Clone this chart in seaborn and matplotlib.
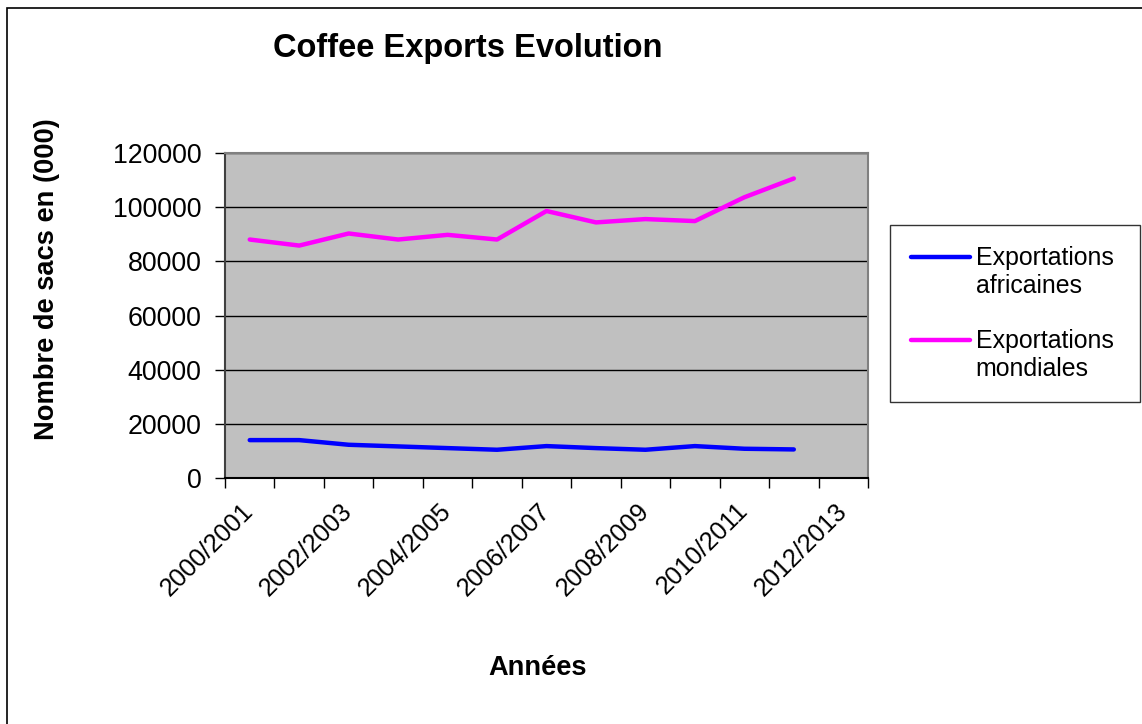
import matplotlib
matplotlib.use("Agg")
import matplotlib.pyplot as plt
from matplotlib.patches import Rectangle
from matplotlib.legend_handler import HandlerLine2D
import numpy as np
import pandas as pd
import seaborn as sns

# Marketing years on the category axis (the last one has no data yet)
campagnes = ["2000/2001", "2001/2002", "2002/2003", "2003/2004", "2004/2005",
             "2005/2006", "2006/2007", "2007/2008", "2008/2009", "2009/2010",
             "2010/2011", "2011/2012", "2012/2013"]

# Exports, thousands of 60 kg bags
exportations_africaines = [13990, 13990, 12270, 11660, 11040, 10430,
                           11780, 11040, 10430, 11780, 10800, 10550]
exportations_mondiales = [88050, 85820, 90280, 88050, 89780, 88050,
                          98580, 94370, 95600, 94860, 103650, 110590]

noms_series = ["Exportations\nafricaines", "Exportations\nmondiales"]
couleurs = ["#0000FF", "#FF00FF"]

n_points = len(exportations_africaines)
df = pd.DataFrame({
    "pos": list(range(n_points)) * 2,
    "valeur": exportations_africaines + exportations_mondiales,
    "serie": [noms_series[0]] * n_points + [noms_series[1]] * n_points,
})

sns.set_style("white")
plt.rcParams["font.family"] = ["Liberation Sans", "DejaVu Sans"]
for key in ("text.color", "axes.labelcolor", "xtick.color", "ytick.color"):
    plt.rcParams[key] = "black"

W, H = 1142, 724
fig = plt.figure(figsize=(W / 100, H / 100), dpi=100)
ax = fig.add_axes([225 / W, 1 - 478 / H, (868 - 225) / W, (478 - 153) / H])

sns.lineplot(data=df, x="pos", y="valeur", hue="serie",
             palette=dict(zip(noms_series, couleurs)), linewidth=3.2,
             legend=False, ax=ax, zorder=3)

ax.set_facecolor("#C0C0C0")
ax.set_xlim(-0.5, len(campagnes) - 0.5)
ax.set_ylim(0, 120000)
ax.set_yticks(np.arange(0, 120001, 20000))
ax.set_yticklabels([str(v) for v in range(0, 120001, 20000)])
ax.grid(axis="y", color="black", linewidth=1.0)
ax.grid(axis="x", visible=False)
ax.set_axisbelow(True)

# Ticks between categories, labels on every other category
ax.set_xticks(np.arange(-0.5, len(campagnes), 1.0), minor=True)
ax.set_xticks(np.arange(0, len(campagnes), 2))
ax.set_xticklabels(campagnes[::2], rotation=45, ha="right",
                   rotation_mode="anchor", va="center")
ax.tick_params(axis="x", which="major", length=0, pad=21, labelsize=18.3)
ax.tick_params(axis="x", which="minor", length=7, width=1, color="black",
               direction="out", bottom=True)
ax.tick_params(axis="y", length=7, width=1, color="black", direction="out",
               left=True, labelsize=19.3, pad=10)

for side, spine in ax.spines.items():
    spine.set_color("#808080")
    spine.set_linewidth(1.5)
ax.spines["left"].set_color("#404040")
ax.spines["bottom"].set_color("black")

ax.set_xlabel("")
ax.set_ylabel("")
fig.text(538 / W, 1 - 668 / H, "Années", fontsize=19.6, fontweight="bold",
         ha="center", va="center")
fig.text(47 / W, 1 - 279 / H, "Nombre de sacs en (000)", fontsize=19.6,
         fontweight="bold", ha="center", va="center", rotation=90)
fig.text(468 / W, 1 - 49 / H, "Coffee Exports Evolution", fontsize=23.5,
         fontweight="bold", ha="center", va="center")


class HandleOnFirstLine(HandlerLine2D):
    """Legend line drawn level with the first line of a two-line label."""

    def create_artists(self, legend, orig_handle, xdescent, ydescent,
                       width, height, fontsize, trans):
        artists = super().create_artists(legend, orig_handle, xdescent,
                                         ydescent, width, height, fontsize,
                                         trans)
        for art in artists:
            art.set_ydata(np.asarray(art.get_ydata()) + 0.62 * fontsize)
            xd = np.asarray(art.get_xdata(), dtype=float)
            if xd.size == 2:
                xd[0] += 0.3 * fontsize
                art.set_xdata(xd)
        return artists


handles = [plt.Line2D([], [], color=c, linewidth=3.2,
                      solid_capstyle="round") for c in couleurs]
leg = fig.legend(handles, noms_series, loc="upper left",
                 bbox_to_anchor=(890 / W, 1 - 402 / H, 250 / W, 177 / H),
                 mode="expand",
                 fontsize=17.9, frameon=True, fancybox=False,
                 edgecolor="black", handlelength=2.35, handletextpad=0.25,
                 labelspacing=1.25, borderpad=0.85, borderaxespad=0,
                 handler_map={plt.Line2D: HandleOnFirstLine()})
leg.get_frame().set_linewidth(1.0)

# Outer chart frame
fig.patches.append(Rectangle((7 / W, -0.05), 1.2, 1 - 8 / H + 0.05,
                             transform=fig.transFigure, fill=False,
                             edgecolor="black", linewidth=1.2))

fig.savefig("out.png", dpi=100, facecolor="white")
